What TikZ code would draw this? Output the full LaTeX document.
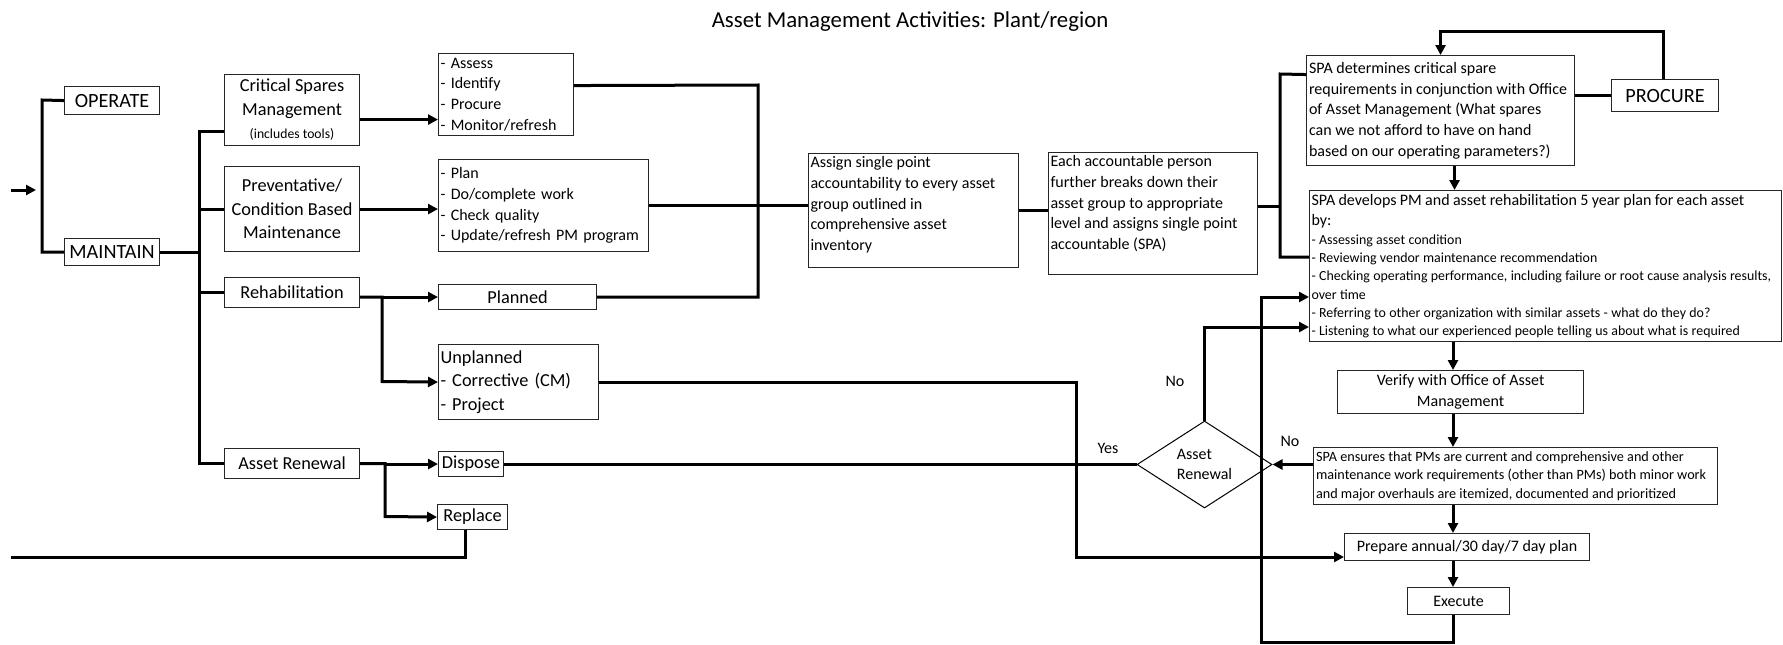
\documentclass[tikz,border=0pt]{standalone}
\usepackage{fontspec}
\setmainfont{Carlito}
\usetikzlibrary{arrows.meta,shapes.geometric,calc}

% type sizes used in the chart
\newcommand\ftitle{\fontsize{22.8}{26}\selectfont}
\newcommand\fbig{\fontsize{20.2}{24}\selectfont}
\newcommand\fmed{\fontsize{18.3}{23.5}\selectfont}
\newcommand\flist{\fontsize{16}{20.7}\selectfont}
\newcommand\fens{\fontsize{14.2}{18.5}\selectfont}
\newcommand\fsmall{\fontsize{13.9}{18.3}\selectfont}
\newcommand\ftiny{\fontsize{13.7}{17}\selectfont}

\begin{document}
\begin{tikzpicture}[x=1pt,y=-1pt,
  box/.style={draw=black!85, line width=1.1pt, anchor=north west, inner xsep=2pt, inner ysep=1pt},
  conn/.style={line width=3pt, draw=black},
  arr/.style={conn, -{Triangle[length=10pt,width=10pt]}},
  lbl/.style={font=\flist, inner sep=0pt},
]
\useasboundingbox (0,0) rectangle (1783,645);

\node[font=\ftitle] (title) at (910,22) {Asset Management Activities: Plant/region};

% ---- left branch: operate / maintain
\node[box, minimum width=95pt, minimum height=28pt, font=\fbig] (operate) at (64,86) {OPERATE};
\node[box, minimum width=95pt, minimum height=27pt, font=\fbig] (maintain) at (64,238) {MAINTAIN};

\node[box, minimum width=135pt, minimum height=71pt, align=center, font=\fmed] (crit) at (224,74)
  {Critical Spares\\Management\\{\ftiny(includes tools)}};
\node[box, minimum width=135pt, minimum height=85pt, align=center, font=\fmed] (prev) at (224,166)
  {Preventative/\\Condition Based\\Maintenance};
\node[box, minimum width=135pt, minimum height=30pt, font=\fmed] (rehab) at (224,277) {Rehabilitation};
\node[box, minimum width=135pt, minimum height=30pt, font=\fmed] (renew) at (224,448) {Asset Renewal};

\node[box, minimum width=135pt, minimum height=82pt, text width=131pt, align=left, font=\flist] (assess) at (438,53)
  {- Assess\\- Identify\\- Procure\\- Monitor/refresh};
\node[box, minimum width=210pt, minimum height=92pt, text width=206pt, align=left, font=\flist] (plan) at (438,159)
  {- Plan\\- Do/complete work\\- Check quality\\- Update/refresh PM program};
\node[box, minimum width=158pt, minimum height=25pt, font=\fmed] (planned) at (438,284) {Planned};
\node[box, minimum width=160pt, minimum height=75pt, text width=156pt, align=left, font=\fmed] (unplanned) at (438,344)
  {Unplanned\\- Corrective (CM)\\- Project};
\node[box, minimum width=65pt, minimum height=25pt, font=\fmed] (dispose) at (438,451) {Dispose};
\node[box, minimum width=70pt, minimum height=25pt, font=\fmed] (replace) at (437,504) {Replace};

% ---- accountability chain
\node[box, inner ysep=3pt, font=\flist] (assign) at (808,153)
  {\parbox[c][108pt][t]{206pt}{\raggedright Assign single point\\accountability to every asset\\group outlined in\\comprehensive asset\\inventory}};
\node[box, inner ysep=3pt, font=\flist] (each) at (1048,152)
  {\parbox[c][116pt][t]{205pt}{\raggedright Each accountable person\\further breaks down their\\asset group to appropriate\\level and assigns single point\\accountable (SPA)}};

% ---- right column
\node[box, minimum width=268pt, minimum height=110pt, align=left, font=\flist] (spadet) at (1306,55)
  {\makebox[263pt][l]{SPA determines critical spare}\\requirements in conjunction with Office\\of Asset Management (What spares\\can we not afford to have on hand\\based on our operating parameters?)};
\node[box, minimum width=107pt, minimum height=32pt, font=\fbig] (procure) at (1611,79) {PROCURE};
\node[box, minimum width=472pt, minimum height=151pt, text width=468pt, align=left] (spadev) at (1309,190)
  {{\flist SPA develops PM and asset rehabilitation 5 year plan for each asset\\by:\par}
   {\fsmall - Assessing asset condition\\- Reviewing vendor maintenance recommendation\\- Checking operating performance, including failure or root cause analysis results,\\over time\\- Referring to other organization with similar assets - what do they do?\\- Listening to what our experienced people telling us about what is required\par}};
\node[box, minimum width=246pt, minimum height=43pt, align=center, font=\flist] (verify) at (1337,370)
  {Verify with Office of Asset\\Management};
\node[box, minimum width=404pt, minimum height=57pt, align=left, font=\fens] (ensure) at (1313,447)
  {\makebox[399pt][l]{SPA ensures that PMs are current and comprehensive and other}\\maintenance work requirements (other than PMs) both minor work\\and major overhauls are itemized, documented and prioritized};
\node[box, minimum width=245pt, minimum height=27pt, font=\flist] (prepare) at (1344,533) {Prepare annual/30 day/7 day plan};
\node[box, minimum width=102pt, minimum height=27pt, font=\flist] (execute) at (1407,587) {Execute};

\node[draw=black, line width=1pt, diamond, aspect=1.55, minimum width=135pt, minimum height=87pt,
      inner sep=0pt, align=left, font=\flist] (renewal) at (1204.5,464.5) {Asset\\Renewal};

\node[lbl] (yes) at (1108,448) {Yes};
\node[lbl] (no1) at (1175,381) {No};
\node[lbl] (no2) at (1290,441) {No};

% ---- junction points
\coordinate (in0) at (11,190);
\coordinate (in1) at (36,190);
\coordinate (brk) at (42,100);
\coordinate (trunk) at (199,131);
\coordinate (c1) at ([yshift=-9.5pt]crit.east);
\coordinate (rb) at (382,381.5);
\coordinate (ab) at (385,516.5);
\coordinate (lo) at (11,557);
\coordinate (r1) at ([xshift=-7pt]replace.south);
\coordinate (mg) at ([yshift=9pt]assess.east);
\coordinate (mgx) at (758,85);
\coordinate (e1) at ([yshift=7pt]each.east);
\coordinate (sb) at (1280,74);
\coordinate (sb2) at (1280,257);
\coordinate (s1) at ([yshift=36pt]spadet.west);
\coordinate (d1) at ([xshift=14pt]spadet.south);
\coordinate (pt) at (1663,31);
\coordinate (cx) at (1453,0);
\coordinate (lb) at (1261,642);
\coordinate (lt) at (1261,297);
\coordinate (dt) at (1204.5,327);
\coordinate (ub) at (1076,557);

% ---- connectors
\draw[arr] (in0) -- (in1);
\draw[conn] (operate.west) -- (brk) |- (maintain.west);
\draw[conn] (maintain.east) -- (maintain.east -| trunk);
\draw[conn] (crit.west |- trunk) -- (trunk) -- (trunk |- renew.west) -- (renew.west);
\draw[conn] (trunk |- prev.west) -- (prev.west);
\draw[conn] (trunk |- rehab.west) -- (rehab.west);

\draw[arr] (c1) -- (c1 -| assess.west);
\draw[arr] (prev.east) -- (prev.east -| plan.west);
\draw[arr] (rehab.east |- planned.west) -| (rb) -- (unplanned.west);
\draw[arr] (rb |- planned.west) -- (planned.west);
\draw[arr] (renew.east) -| (ab) -- (replace.west);
\draw[arr] (ab |- dispose.west) -- (dispose.west);
\draw[conn] (r1) |- (lo);

\draw[conn] (mg) -- (mgx) -- (mgx |- planned.east) -- (planned.east);
\draw[conn] (plan.east) -- (plan.east -| assign.west);
\draw[conn] (assign.east) -- (assign.east -| each.west);
\draw[conn] (e1) -- (e1 -| sb);
\draw[conn] (s1) -- (sb) -- (sb2) -- (sb2 -| spadev.west);

\draw[conn] (spadet.east |- procure.west) -- (procure.west);
\draw[arr] (procure.north -| pt) -- (pt) -| (spadet.north);
\draw[arr] (d1) -- (d1 |- spadev.north);

\draw[arr] (spadev.south -| cx) -- (verify.north -| cx);
\draw[arr] (verify.south -| cx) -- (ensure.north -| cx);
\draw[arr] (ensure.south -| cx) -- (prepare.north -| cx);
\draw[arr] (prepare.south -| cx) -- (execute.north -| cx);
\draw[arr] (execute.south -| cx) |- (lb) -- (lt) -- (lt -| spadev.west);

\draw[arr] (ensure.west |- renewal.east) -- (renewal.east);
\draw[arr] (renewal.north) -- (dt) -- (dt -| spadev.west);
\draw[conn] (dispose.east |- renewal.west) -- (renewal.west);
\draw[arr] (unplanned.east) -| (ub) -- (ub -| prepare.west);
\end{tikzpicture}
\end{document}
